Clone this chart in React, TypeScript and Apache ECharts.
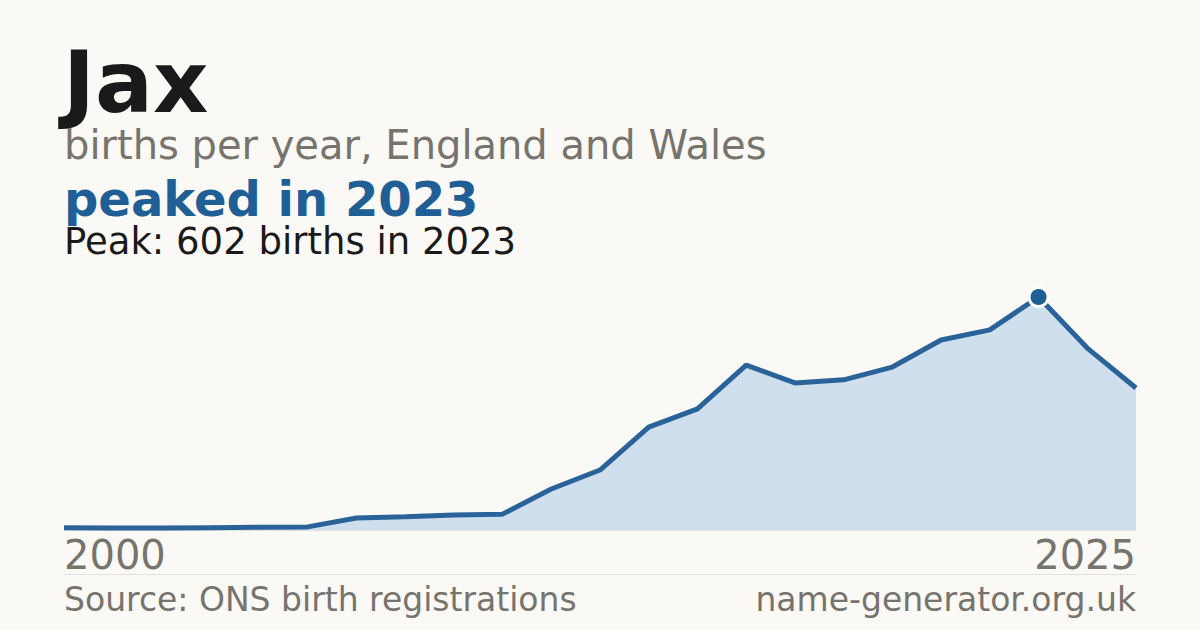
import React, { useEffect, useRef } from "react";
import * as echarts from "echarts";

const years = ["2000", "2003", "2005", "2006", "2007", "2008", "2009", "2010", "2011", "2012", "2013", "2014", "2015", "2016", "2017", "2018", "2019", "2020", "2021", "2022", "2023", "2024", "2025"];
const births = [6, 5, 5, 6, 7, 8, 31, 34, 39, 41, 106, 155, 266, 313, 426, 380, 388, 421, 491, 517, 602, 470, 367];
const peakYear = "2023";
const peakValue = 602;

const FONT = "DejaVu Sans";
const BLUE = "#1f5f96";
const GREY = "#77736d";

export default function App() {
  const ref = useRef<HTMLDivElement>(null);
  useEffect(() => {
    if (!ref.current) return;
    const chart = echarts.init(ref.current, null, { renderer: "svg" });
    const last = years.length - 1;
    chart.setOption({
      animation: false,
      backgroundColor: "#faf9f5",
      grid: { left: 64, right: 64, top: 297, bottom: 100, containLabel: false },
      xAxis: {
        type: "category",
        data: years,
        boundaryGap: false,
        axisLine: { show: true, lineStyle: { color: "#e2e0da", width: 1 } },
        axisTick: { show: false },
        splitLine: { show: false },
        axisLabel: {
          interval: (i: number) => i === 0 || i === last,
          color: GREY,
          fontFamily: FONT,
          fontSize: 40,
          margin: 5,
          alignMinLabel: "left",
          alignMaxLabel: "right",
        },
      },
      yAxis: {
        type: "value",
        min: 0,
        max: peakValue,
        show: false,
        splitLine: { show: false },
      },
      series: [
        {
          type: "line",
          data: births,
          symbol: "none",
          lineStyle: { color: "#2a6399", width: 5 },
          areaStyle: { color: "#cfdfee", opacity: 1 },
          z: 2,
        },
        {
          type: "scatter",
          data: [[peakYear, peakValue]],
          symbol: "circle",
          symbolSize: 19,
          itemStyle: { color: BLUE, borderColor: "#ffffff", borderWidth: 3, opacity: 1 },
          z: 3,
        },
      ],
      graphic: [
        { type: "text", left: 63, top: 39, style: { text: "Jax", font: `bold 86px '${FONT}'`, fill: "#1a1a1a" } },
        { type: "text", left: 64, top: 125, style: { text: "births per year, England and Wales", font: `40px '${FONT}'`, fill: GREY } },
        { type: "text", left: 64, top: 175, style: { text: "peaked in 2023", font: `bold 48px '${FONT}'`, lineHeight: 44, fill: BLUE } },
        { type: "text", left: 64, top: 223, style: { text: "Peak: 602 births in 2023", font: `37px '${FONT}'`, lineHeight: 37, fill: "#1a1a1a" } },
        { type: "line", shape: { x1: 64, y1: 574.5, x2: 1136, y2: 574.5 }, style: { stroke: "#e2e0da", lineWidth: 1 } },
        { type: "text", left: 64, top: 583, style: { text: "Source: ONS birth registrations", font: `33px '${FONT}'`, fill: GREY } },
        { type: "text", right: 64, top: 583, style: { text: "name-generator.org.uk", font: `33px '${FONT}'`, fill: GREY } },
      ],
    });
    return () => chart.dispose();
  }, []);
  return (
    <div
      ref={ref}
      style={{ position: "fixed", left: 0, top: 0, width: 1200, height: 630 }}
    />
  );
}
